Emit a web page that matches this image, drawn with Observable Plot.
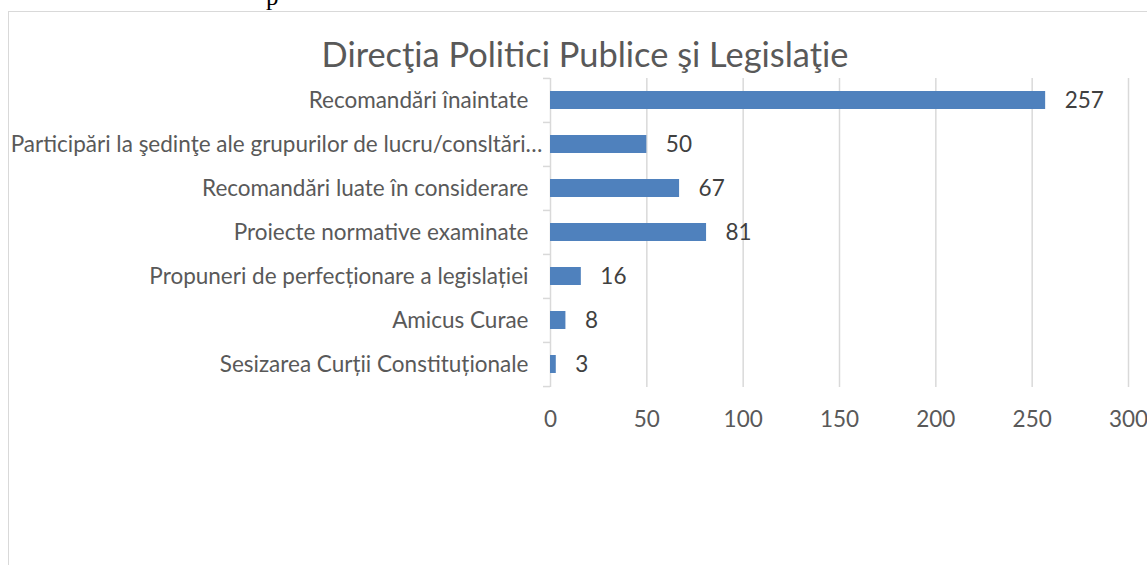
<!DOCTYPE html>
<html>
<head>
<meta charset="utf-8">
<script src="https://cdn.jsdelivr.net/npm/d3@7"></script>
<script src="https://cdn.jsdelivr.net/npm/@observablehq/plot@0.6"></script>
<style>
  html, body { margin: 0; padding: 0; background: #fff; }
  #page { position: relative; width: 1147px; height: 565px; overflow: hidden; background: #fff; }
  #frame { position: absolute; left: 8px; top: 11px; right: -10px; bottom: -10px;
           border-left: 1.5px solid #d9d9d9; border-top: 1.5px solid #d9d9d9; }
  #title { position: absolute; left: 0; width: 1170px; top: 32px; text-align: center;
           font-family: Lato, "Open Sans", sans-serif; font-size: 34.4px; color: #595959; line-height: 44px; white-space: nowrap; }
  #chart { position: absolute; left: 0; top: 0; }
  #deco { position: absolute; left: 0; top: 0; }
</style>
</head>
<body>
<div id="page">
  <svg id="deco" width="1147" height="20"><text x="266" y="5" font-family="Liberation Serif" font-size="25" fill="#000">p</text></svg>
  <div id="frame"></div>
  <div id="title">Direcţia Politici Publice şi Legislaţie</div>
  <div id="chart"></div>
</div>
<script>
const categories = [
  "Recomandări înaintate",
  "Participări la şedinţe ale grupurilor de lucru/consltări…",
  "Recomandări luate în considerare",
  "Proiecte normative examinate",
  "Propuneri de perfecționare a legislației",
  "Amicus Curae",
  "Sesizarea Curții Constituționale"
];
const values = [257, 50, 67, 81, 16, 8, 3];
const xTicks = [0, 50, 100, 150, 200, 250, 300];
const truncatedLabels = ["Participări la şedinţe ale grupurilor de lucru/consltări…"];

const data = categories.map((c, i) => ({category: c, value: values[i]}));

const W = 1147, H = 565;
const mTop = 78, mBottom = H - 387, mLeft = 550, mRight = W - 1128;
const step = (H - mTop - mBottom) / categories.length;
const font = "Lato, 'Open Sans', sans-serif";
const fs = 22.5;

const chart = Plot.plot({
  width: W,
  height: H,
  marginTop: mTop,
  marginBottom: mBottom,
  marginLeft: mLeft,
  marginRight: mRight,
  style: {fontFamily: font, fontSize: fs + "px", background: "transparent", overflow: "visible"},
  x: {domain: [0, 300], ticks: xTicks, label: null},
  y: {domain: categories, paddingInner: 0.585, paddingOuter: 0.2925, label: null},
  marks: [
    Plot.gridX(xTicks.filter(t => t > 0), {stroke: "#d9d9d9", strokeOpacity: 1, strokeWidth: 1.5}),
    Plot.ruleX([0], {stroke: "#d9d9d9", strokeWidth: 1.5}),
    Plot.axisY({tickSize: 7, tickPadding: 0, text: null, label: null, stroke: "#d9d9d9", strokeWidth: 1.5, dy: -step / 2}),
    Plot.axisY([categories[categories.length - 1]], {tickSize: 7, text: null, label: null, stroke: "#d9d9d9", strokeWidth: 1.5, dy: step / 2}),
    Plot.axisY(categories.filter(c => !truncatedLabels.includes(c)), {tickSize: 0, tickPadding: 22, fill: "#595959", fontSize: fs, label: null}),
    Plot.axisY(truncatedLabels, {tickSize: 0, tickPadding: 8, fill: "#595959", fontSize: fs, label: null}),
    Plot.axisX({ticks: xTicks, tickSize: 0, tickPadding: 24, fill: "#595959", fontSize: fs, label: null}),
    Plot.barX(data, {y: "category", x: "value", fill: "#4f81bd"}),
    Plot.text(data, {y: "category", x: "value", text: d => String(d.value), textAnchor: "start", dx: 19, fill: "#404040", fontSize: fs})
  ]
});
document.getElementById("chart").appendChild(chart);
</script>
</body>
</html>
